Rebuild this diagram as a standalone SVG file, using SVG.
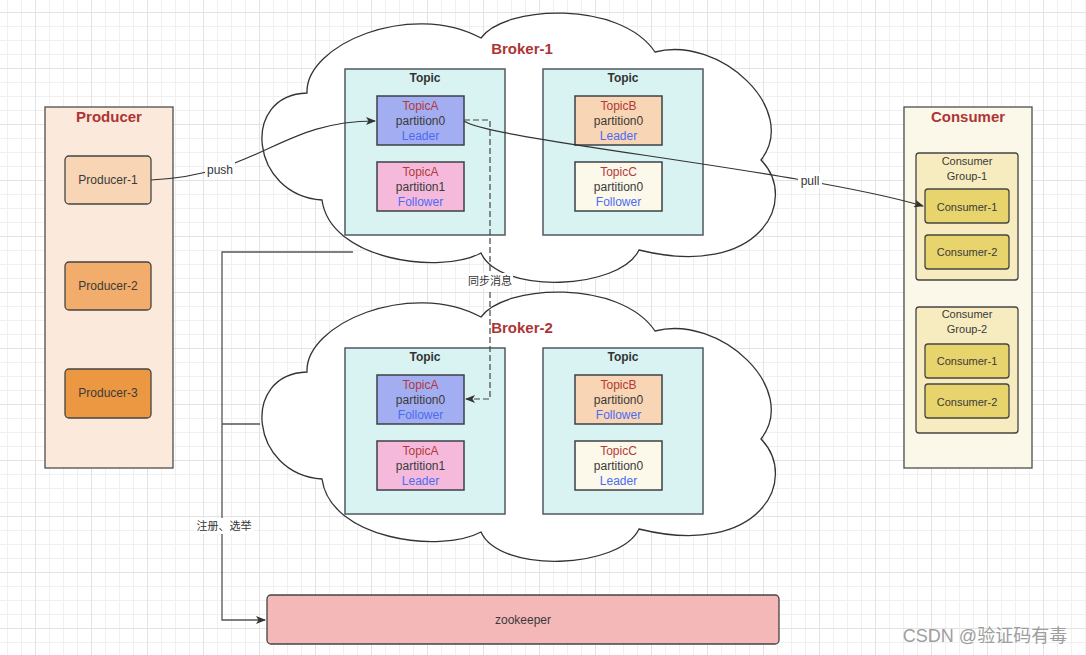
<svg xmlns="http://www.w3.org/2000/svg" width="1086" height="655" viewBox="0 0 1086 655">
<style>
text{font-family:"Liberation Sans","Noto Sans CJK SC",sans-serif;dominant-baseline:central;text-anchor:middle}
.title{font-size:15px;font-weight:bold;fill:#ad3535}
.tp{font-size:12px;font-weight:bold;fill:#333}
.t12{font-size:12px;fill:#3a3a3a}
.t11{font-size:11px;fill:#3a3a3a}
.red{fill:#b23a3a}
.blue{fill:#4a6cf4}
.cloud{fill:#fff;stroke:#333;stroke-width:1.3}
.topic{fill:#d9f3f3;stroke:#4f5a60;stroke-width:1.5}
.part{stroke:#3c4146;stroke-width:1.5}
.box{stroke:#444;stroke-width:1.3}
.line{fill:none;stroke:#333;stroke-width:1.2}
.lbl{font-size:12px;fill:#333}
.lblcn{font-size:11px;fill:#333}
</style>
<defs>
<pattern id="gmin" x="7" y="12" width="14" height="14" patternUnits="userSpaceOnUse">
<path d="M0 0.5H14M0.5 0V14" stroke="#f0f0f0" stroke-width="1" fill="none"/>
</pattern>
<pattern id="gmaj" x="35" y="12" width="56" height="56" patternUnits="userSpaceOnUse">
<path d="M0 0.5H56M0.5 0V56" stroke="#e3e3e3" stroke-width="1" fill="none"/>
</pattern>
<marker id="arr" markerWidth="10" markerHeight="8" refX="9" refY="4" orient="auto" markerUnits="userSpaceOnUse">
<path d="M0,0 L10,4 L0,8 L2.5,4 Z" fill="#333"/>
</marker>
<path id="cloudp" d="M307,93 C305,45 410,0 481,38 C505,5 620,0 655,52 C720,35 800,110 761,160 C800,200 760,280 639,250 C620,290 500,295 481,253 C440,275 330,260 322,200 C250,195 240,95 307,93 Z"/>
</defs>
<rect width="1086" height="655" fill="#fff"/>
<rect width="1086" height="655" fill="url(#gmin)"/>
<rect width="1086" height="655" fill="url(#gmaj)"/>

<g id="producer">
<rect x="45" y="107" width="128" height="361" fill="#fbe9db" stroke="#4d4d4d" stroke-width="1.3"/>
<text x="109" y="116" class="title">Producer</text>
</g>
<g id="producer-1">
<rect x="65" y="156" width="86" height="48" rx="4" fill="#f8d5b4" class="box"/>
<text x="108" y="180" class="t12">Producer-1</text>
</g>
<g id="producer-2">
<rect x="65" y="262" width="86" height="48" rx="4" fill="#f2ac6b" class="box"/>
<text x="108" y="286" class="t12">Producer-2</text>
</g>
<g id="producer-3">
<rect x="65" y="369" width="86" height="49" rx="4" fill="#ec9843" class="box"/>
<text x="108" y="393" class="t12">Producer-3</text>
</g>

<g id="broker-1">
<use href="#cloudp" class="cloud"/>
<text x="522" y="48" class="title">Broker-1</text>
</g>
<g id="b1-topic-left">
<rect x="345" y="69" width="160" height="166" class="topic"/>
<text x="425" y="78" class="tp">Topic</text>
</g>
<g id="b1-topic-right">
<rect x="543" y="69" width="160" height="166" class="topic"/>
<text x="623" y="78" class="tp">Topic</text>
</g>
<g id="b1-topicA-p0">
<rect x="377" y="96" width="87" height="49" fill="#a3adf1" class="part"/>
<text x="420.5" y="106" class="t12 red">TopicA</text>
<text x="420.5" y="121" class="t12">partition0</text>
<text x="420.5" y="136" class="t12 blue">Leader</text>
</g>
<g id="b1-topicA-p1">
<rect x="377" y="162" width="87" height="49" fill="#f5badb" class="part"/>
<text x="420.5" y="172" class="t12 red">TopicA</text>
<text x="420.5" y="187" class="t12">partition1</text>
<text x="420.5" y="202" class="t12 blue">Follower</text>
</g>
<g id="b1-topicB-p0">
<rect x="575" y="96" width="87" height="49" fill="#f8d5b4" class="part"/>
<text x="618.5" y="106" class="t12 red">TopicB</text>
<text x="618.5" y="121" class="t12">partition0</text>
<text x="618.5" y="136" class="t12 blue">Leader</text>
</g>
<g id="b1-topicC-p0">
<rect x="575" y="162" width="87" height="49" fill="#fcf8ea" class="part"/>
<text x="618.5" y="172" class="t12 red">TopicC</text>
<text x="618.5" y="187" class="t12">partition0</text>
<text x="618.5" y="202" class="t12 blue">Follower</text>
</g>

<g id="broker-2">
<use href="#cloudp" class="cloud" transform="translate(0,279)"/>
<text x="522" y="327" class="title">Broker-2</text>
</g>
<g id="b2-topic-left">
<rect x="345" y="348" width="160" height="166" class="topic"/>
<text x="425" y="357" class="tp">Topic</text>
</g>
<g id="b2-topic-right">
<rect x="543" y="348" width="160" height="166" class="topic"/>
<text x="623" y="357" class="tp">Topic</text>
</g>
<g id="b2-topicA-p0">
<rect x="377" y="375" width="87" height="49" fill="#a3adf1" class="part"/>
<text x="420.5" y="385" class="t12 red">TopicA</text>
<text x="420.5" y="400" class="t12">partition0</text>
<text x="420.5" y="415" class="t12 blue">Follower</text>
</g>
<g id="b2-topicA-p1">
<rect x="377" y="441" width="87" height="49" fill="#f5badb" class="part"/>
<text x="420.5" y="451" class="t12 red">TopicA</text>
<text x="420.5" y="466" class="t12">partition1</text>
<text x="420.5" y="481" class="t12 blue">Leader</text>
</g>
<g id="b2-topicB-p0">
<rect x="575" y="375" width="87" height="49" fill="#f8d5b4" class="part"/>
<text x="618.5" y="385" class="t12 red">TopicB</text>
<text x="618.5" y="400" class="t12">partition0</text>
<text x="618.5" y="415" class="t12 blue">Follower</text>
</g>
<g id="b2-topicC-p0">
<rect x="575" y="441" width="87" height="49" fill="#fcf8ea" class="part"/>
<text x="618.5" y="451" class="t12 red">TopicC</text>
<text x="618.5" y="466" class="t12">partition0</text>
<text x="618.5" y="481" class="t12 blue">Leader</text>
</g>

<g id="consumer">
<rect x="904" y="107" width="128" height="361" fill="#fcf8e9" stroke="#4d4d4d" stroke-width="1.3"/>
<text x="968" y="116" class="title">Consumer</text>
</g>
<g id="consumer-group-1">
<rect x="916" y="153" width="102" height="127" rx="3" fill="#f6ecbf" class="box"/>
<text x="967" y="161" class="t11">Consumer</text>
<text x="967" y="176" class="t11">Group-1</text>
</g>
<g id="g1-consumer-1">
<rect x="925" y="189" width="84" height="34" rx="3" fill="#e8d46d" class="box"/>
<text x="967" y="207" class="t11">Consumer-1</text>
</g>
<g id="g1-consumer-2">
<rect x="925" y="235" width="84" height="34" rx="3" fill="#e8d46d" class="box"/>
<text x="967" y="252" class="t11">Consumer-2</text>
</g>
<g id="consumer-group-2">
<rect x="916" y="307" width="102" height="126" rx="3" fill="#f6ecbf" class="box"/>
<text x="967" y="314" class="t11">Consumer</text>
<text x="967" y="329" class="t11">Group-2</text>
</g>
<g id="g2-consumer-1">
<rect x="925" y="344" width="84" height="34" rx="3" fill="#e8d46d" class="box"/>
<text x="967" y="361" class="t11">Consumer-1</text>
</g>
<g id="g2-consumer-2">
<rect x="925" y="384" width="84" height="34" rx="3" fill="#e8d46d" class="box"/>
<text x="967" y="402" class="t11">Consumer-2</text>
</g>

<g id="zookeeper">
<rect x="267" y="595" width="512" height="49" rx="4" fill="#f4b8b8" class="box"/>
<text x="523" y="620" class="t12">zookeeper</text>
</g>

<g id="connectors">
<path class="line" d="M151,180 C260,175 280,121 375,121" marker-end="url(#arr)"/>
<rect x="205" y="162" width="30" height="15" fill="#fff"/>
<text x="220" y="170" class="lbl">push</text>
<path class="line" d="M464,121 C490,140 800,170 923,206" marker-end="url(#arr)"/>
<rect x="798" y="173" width="24" height="15" fill="#fff"/>
<text x="810" y="181" class="lbl">pull</text>
<path d="M464,120 H490 V399 H466" fill="none" stroke="#444" stroke-width="1.2" stroke-dasharray="6 3" marker-end="url(#arr)"/>
<rect x="467" y="273" width="46" height="16" fill="#fff"/>
<text x="490" y="281" class="lblcn">同步消息</text>
<path d="M353,252 H222 V620 H265" fill="none" stroke="#555" stroke-width="1.3" marker-end="url(#arr)"/>
<path d="M260,424 H222" fill="none" stroke="#555" stroke-width="1.3"/>
<rect x="194" y="518" width="60" height="16" fill="#fff"/>
<text x="224" y="526" class="lblcn">注册、选举</text>
</g>

<text x="985" y="636" style="font-size:18px;fill:#9e9e9e">CSDN @验证码有毒</text>
</svg>
